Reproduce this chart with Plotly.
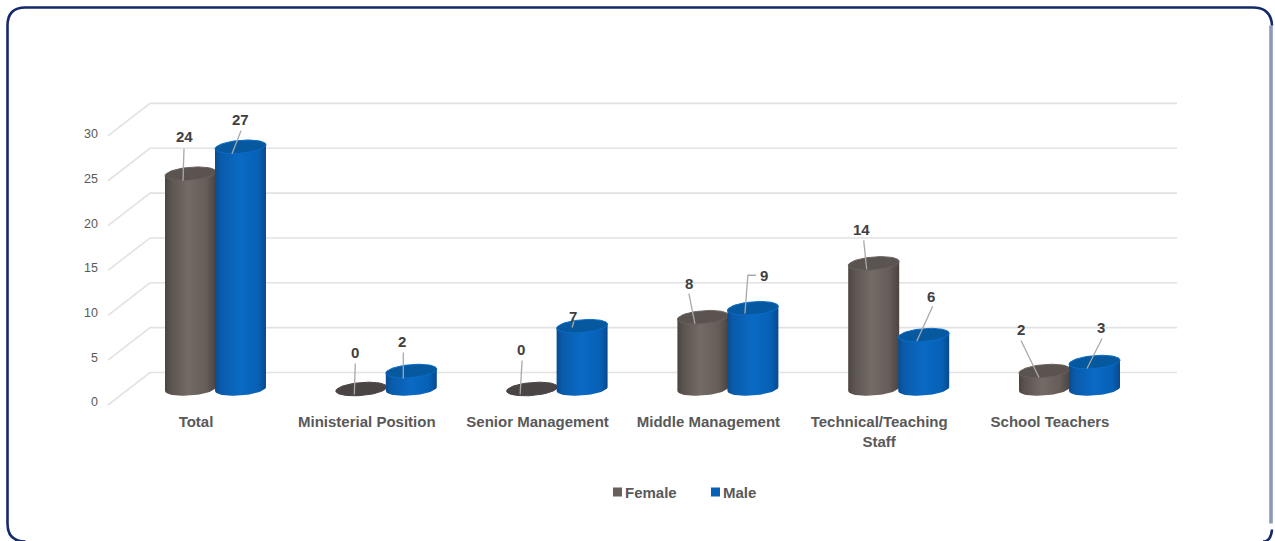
import numpy as np
import plotly.graph_objects as go

# Staff counts by post category and gender
categories = ["Total", "Ministerial Position", "Senior Management",
              "Middle Management", "Technical/Teaching<br>Staff", "School Teachers"]
female = [24, 0, 0, 8, 14, 2]
male = [27, 2, 7, 9, 6, 3]
y_ticks = [0, 5, 10, 15, 20, 25, 30]

W, H = 1275, 541
PX_PER_CAT = 170.8
PX_PER_UNIT = 8.97
LABEL_PX_PER_UNIT = 8.93
X_ORIGIN_PX = 196
Y_BASE_PX = 389.0
Y_LABEL_ZERO_PX = 402

x_range = [-X_ORIGIN_PX / PX_PER_CAT, (W - X_ORIGIN_PX) / PX_PER_CAT]
y_range = [(Y_BASE_PX - H) / PX_PER_UNIT, Y_BASE_PX / PX_PER_UNIT]
y_label_range = [(Y_LABEL_ZERO_PX - H) / LABEL_PX_PER_UNIT, Y_LABEL_ZERO_PX / LABEL_PX_PER_UNIT]

# Cylinder geometry, in pixels
RX, RY, TILT = 25.5, 6.5, 2.0
SERIES_OFFSET = {"Female": -5.5, "Male": 44.5}
GRADIENTS = {
    "Female": [[0, "#4b4542"], [0.12, "#5c5450"], [0.45, "#746b66"],
               [0.8, "#665d59"], [1, "#4a4442"]],
    "Male": [[0, "#0a4c92"], [0.12, "#0a5cab"], [0.5, "#0a6ac4"],
             [0.85, "#0660b6"], [1, "#094a8e"]],
}
BASE_COLOR = {"Female": "#675f5b", "Male": "#0660b5"}
CAP_COLOR = {"Female": "#5b5350", "Male": "#06589f"}
CAP_RIM = {"Female": "#69615d", "Male": "#0a6cc8"}
ZERO_CAP = "#4b4445"

# Data-label placement relative to each cylinder's top: (label offset, leader polyline)
LABEL_PLACEMENT = {
    ("Female", 0): ((-6.5, -37), [(-6.5, -25), (-7.5, 7)]),
    ("Male", 0): ((-0.5, -27), [(0.5, -16), (-8.5, 7)]),
    ("Female", 1): ((-6, -36.5), [(-6, -25.5), (-7, 5.5)]),
    ("Male", 1): ((-9, -30), [(-8, -18.6), (-8, 7.4)]),
    ("Female", 2): ((-11, -39.5), [(-10, -28.5), (-12, 5.5)]),
    ("Male", 2): ((-9, -10), [(-8, -5.7), (-10, 1.3)]),
    ("Female", 3): ((-14, -34), [(-14, -23.7), (-8, 6.3)]),
    ("Male", 3): ((11, -33), [(3, -33), (-5, -33), (-8, 5.2)]),
    ("Female", 4): ((-12, -34), [(-10, -23), (-7, 6)]),
    ("Male", 4): ((7, -39), [(9, -29), (-7, 6)]),
    ("Female", 5): ((-23.5, -41.5), [(-23.5, -30.6), (-5.5, 6.4)]),
    ("Male", 5): ((6.5, -35), [(7.5, -23.6), (-7.5, 6.4)]),
}

FONT = "Liberation Sans"
t = np.linspace(0, 2 * np.pi, 73)


def dx(px):
    return px / PX_PER_CAT


def dy(px):
    return px / PX_PER_UNIT


def px_x(px):
    return px / W


def px_y(py):
    return 1 - py / H


def ellipse(cx, v):
    xs = cx + dx(RX) * np.cos(t)
    ys = v + dy(RY) * np.sin(t) + dy(TILT) * np.cos(t)
    return xs, ys


def body_outline(cx, v):
    # Left wall, lower half of the base ellipse, right wall, upper edge at the cap
    lower = np.linspace(np.pi, 2 * np.pi, 37)
    xs = cx + dx(RX) * np.cos(lower)
    ys = dy(RY) * np.sin(lower) + dy(TILT) * np.cos(lower)
    upper = lower[::-1]
    xt = cx + dx(RX) * np.cos(upper)
    yt = v + dy(TILT) * np.cos(upper)
    return np.concatenate([xs, xt]), np.concatenate([ys, yt])


fig = go.Figure()
series = [("Female", female), ("Male", male)]

# Flat bars carry the values; the shaded walls and caps are drawn on top of them
for name, values in series:
    fig.add_trace(go.Bar(
        x=list(range(len(categories))), y=values, name=name,
        width=dx(RX * 1.8),
        offset=dx(SERIES_OFFSET[name] - RX * 0.9),
        marker=dict(color=BASE_COLOR[name], line=dict(width=0)),
        showlegend=False,
    ))

for i in range(len(categories)):
    for name, values in series:
        v = values[i]
        cx = i + dx(SERIES_OFFSET[name])
        if v > 0:
            bx, by = body_outline(cx, v)
            fig.add_trace(go.Scatter(
                x=bx, y=by, mode="lines", fill="toself",
                fillgradient=dict(type="horizontal", colorscale=GRADIENTS[name]),
                line=dict(width=0), hoverinfo="skip", showlegend=False,
            ))
        ex, ey = ellipse(cx, v)
        fig.add_trace(go.Scatter(
            x=ex, y=ey, mode="lines", fill="toself",
            fillcolor=CAP_COLOR[name] if v > 0 else ZERO_CAP,
            line=dict(width=1, color=CAP_RIM[name] if v > 0 else ZERO_CAP),
            hoverinfo="skip", showlegend=False,
        ))

# Leader lines and value labels
annotations = []
for name, values in series:
    for i, v in enumerate(values):
        cx = i + dx(SERIES_OFFSET[name])
        (lx, ly), leader = LABEL_PLACEMENT[(name, i)]
        fig.add_trace(go.Scatter(
            x=[cx + dx(p[0]) for p in leader],
            y=[v - dy(p[1]) for p in leader],
            mode="lines", line=dict(color="#a9a9a9", width=1.3),
            hoverinfo="skip", showlegend=False,
        ))
        annotations.append(dict(
            x=cx + dx(lx), y=v - dy(ly), xref="x", yref="y", text=str(v),
            showarrow=False, xanchor="center", yanchor="middle",
            font=dict(family=FONT, size=15, color="#404040", weight="bold"),
        ))

# Keeps the value-axis labels on their own shifted axis
fig.add_trace(go.Scatter(x=[None], y=[None], yaxis="y2", showlegend=False, hoverinfo="skip"))

# Wall gridlines with their slanted floor segments
WALL_SHIFT = (Y_BASE_PX - 372.5) / PX_PER_UNIT
FRONT_SHIFT = (Y_BASE_PX - 405) / PX_PER_UNIT
X_FRONT = (108 - X_ORIGIN_PX) / PX_PER_CAT
X_WALL = (150 - X_ORIGIN_PX) / PX_PER_CAT
X_END = (1177 - X_ORIGIN_PX) / PX_PER_CAT
shapes = []
for v in y_ticks:
    path = (f"M {X_FRONT},{v + FRONT_SHIFT} L {X_WALL},{v + WALL_SHIFT} "
            f"L {X_END},{v + WALL_SHIFT}")
    shapes.append(dict(type="path", path=path, xref="x", yref="y", layer="below",
                       line=dict(color="#e2e2e2", width=1.6)))

# Rounded panel border: dark on the left and top, paler down the right edge
L, T, R, B, C = 7.5, 7.5, 1271, 541.5, 18


def p(x, y):
    return f"{px_x(x)},{px_y(y)}"


shapes.append(dict(
    type="path", xref="paper", yref="paper",
    path=f"M {p(R, T + C)} L {p(R, B - C)}",
    line=dict(color="#8f9abb", width=3.6),
))
shapes.append(dict(
    type="path", xref="paper", yref="paper",
    path=(f"M {p(R + 1, T + C)} Q {p(R, T)} {p(R - C, T)} L {p(L + C, T)} "
          f"Q {p(L, T)} {p(L, T + C)} L {p(L, B - C)} Q {p(L, B)} {p(L + C, B)}"),
    line=dict(color="#14296b", width=2.6),
))
shapes.append(dict(
    type="path", xref="paper", yref="paper",
    path=f"M {p(R + 1, B - C + 6)} Q {p(R, B)} {p(R - 8, B)}",
    line=dict(color="#14296b", width=2.6),
))

# Legend keys
for name, x0, x1 in [("Female", 613, 622), ("Male", 711, 720)]:
    shapes.append(dict(type="rect", xref="paper", yref="paper",
                       x0=px_x(x0), x1=px_x(x1), y0=px_y(496.5), y1=px_y(487.5),
                       fillcolor=BASE_COLOR[name], line=dict(width=0)))
    annotations.append(dict(
        x=px_x(x1 + 1), y=px_y(492), xref="paper", yref="paper", text=name,
        showarrow=False, xanchor="left", yanchor="middle",
        font=dict(family=FONT, size=15, color="#595959", weight="bold"),
    ))

fig.update_layout(
    width=W, height=H,
    margin=dict(l=0, r=0, t=0, b=0),
    paper_bgcolor="white", plot_bgcolor="white",
    barmode="overlay", showlegend=False,
    font=dict(family=FONT),
    xaxis=dict(
        range=x_range, domain=[0, 1], anchor="free", position=(H - 411) / H,
        tickmode="array", tickvals=list(range(len(categories))), ticktext=categories,
        ticks="", showgrid=False, zeroline=False, showline=False,
        tickfont=dict(family=FONT, size=15, color="#595959", weight="bold"),
        tickangle=0, fixedrange=True,
    ),
    yaxis=dict(range=y_range, domain=[0, 1], visible=False, fixedrange=True),
    yaxis2=dict(
        range=y_label_range, domain=[0, 1], overlaying="y",
        anchor="free", position=98 / W, side="left",
        tickmode="array", tickvals=y_ticks, ticks="",
        showgrid=False, zeroline=False, showline=False,
        tickfont=dict(family=FONT, size=12.5, color="#595959"),
        fixedrange=True,
    ),
    shapes=shapes,
    annotations=annotations,
)

fig.write_html("out.html", config={"displayModeBar": False})
